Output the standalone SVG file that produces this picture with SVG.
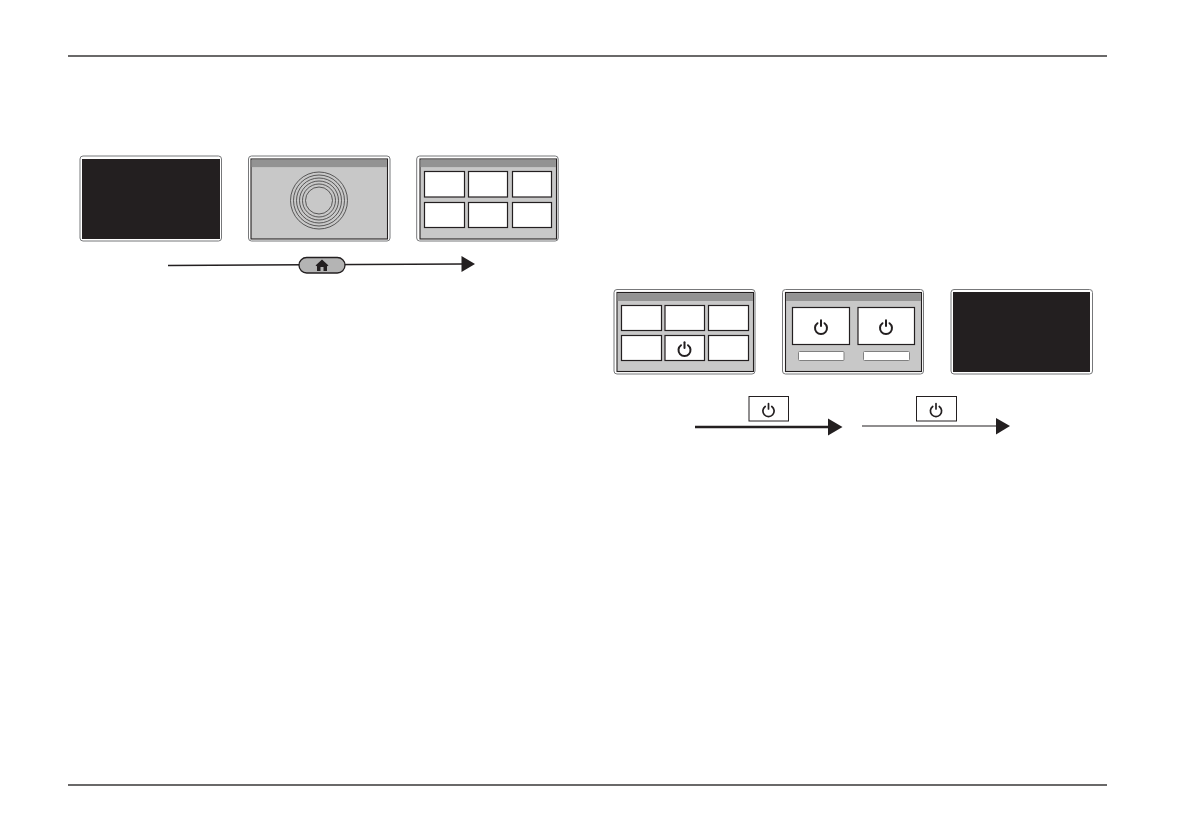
<svg xmlns="http://www.w3.org/2000/svg" width="1192" height="840" viewBox="0 0 1192 840">
<style>
.rule{stroke:#3a3839;stroke-width:1.5;fill:none}
.frame{fill:#fff;stroke:#77787a;stroke-width:1}
.black{fill:#231f20}
.scr{fill:#c8c8c8;stroke:#231f20;stroke-width:1.1}
.bar{fill:#939393}
.cell{fill:#fff;stroke:#231f20;stroke-width:1.2}
.ring{fill:none;stroke:#3a3839;stroke-width:.8}
.slot{fill:#fff;stroke:#808080;stroke-width:1}
.line{stroke:#231f20;fill:none}
.pw{fill:none;stroke:#231f20;stroke-width:2;stroke-linecap:round}
.pw2{fill:none;stroke:#231f20;stroke-width:1.700;stroke-linecap:round}
.head{fill:#231f20}
</style>
<defs>
<g id="power"><path class="pw" d="M-3.500-3.800A6 6 0 1 0 3.500-3.800"/><path class="pw" d="M0-6.800V-1"/></g>
<g id="power-small"><path class="pw2" d="M-3.300-3.500A5.600 5.600 0 1 0 3.300-3.500"/><path class="pw2" d="M0-6.300V-1"/></g>
</defs>
<path class="rule" d="M68 56H1107M68 785H1107"/>
<g id="screen-1"><rect class="frame" x="80" y="156" width="141.500" height="85" rx="3"/><rect class="black" x="82" y="159" width="138" height="80"/></g>
<g id="screen-2"><rect class="frame" x="248.500" y="156" width="141.500" height="85" rx="3"/><rect class="scr" x="251" y="159" width="136.500" height="80"/><rect class="bar" x="251.600" y="159.600" width="135.300" height="7.500"/>
<g class="rings"><circle class="ring" cx="319" cy="200.500" r="28.500"/><circle class="ring" cx="319" cy="200.500" r="25.500"/><circle class="ring" cx="319" cy="200.500" r="22.500"/><circle class="ring" cx="319" cy="200.500" r="19.500"/><circle class="ring" cx="319" cy="200.500" r="16.500"/><circle class="ring" cx="319" cy="200.500" r="13.500"/></g></g>
<g id="screen-3"><rect class="frame" x="416.700" y="156" width="141.500" height="85" rx="3"/><rect class="scr" x="420" y="159" width="136.500" height="80"/><rect class="bar" x="420.600" y="159.600" width="135.300" height="7.500"/>
<rect class="cell" x="424.500" y="171.500" width="40" height="25.500"/><rect class="cell" x="468.500" y="171.500" width="39" height="25.500"/><rect class="cell" x="512.500" y="171.500" width="39" height="25.500"/><rect class="cell" x="424.500" y="202.500" width="40" height="25"/><rect class="cell" x="468.500" y="202.500" width="39" height="25"/><rect class="cell" x="512.500" y="202.500" width="39" height="25"/></g>
<g id="screen-4"><rect class="frame" x="614" y="289.500" width="141" height="84.500" rx="3"/><rect class="scr" x="617" y="292.500" width="136.500" height="79"/><rect class="bar" x="617.600" y="293.100" width="135.300" height="7.900"/>
<rect class="cell" x="621.500" y="305.500" width="40" height="25"/><rect class="cell" x="665" y="305.500" width="39.500" height="25"/><rect class="cell" x="708.500" y="305.500" width="40" height="25"/><rect class="cell" x="621.500" y="335.500" width="40" height="25"/><rect class="cell" x="665" y="335.500" width="39.500" height="25"/><rect class="cell" x="708.500" y="335.500" width="40" height="25"/><use href="#power" x="684.500" y="349"/></g>
<g id="screen-5"><rect class="frame" x="782.500" y="289.500" width="141" height="84.500" rx="3"/><rect class="scr" x="785.500" y="292.500" width="136" height="79"/><rect class="bar" x="786.100" y="293.100" width="134.800" height="7.900"/>
<rect class="cell" x="792.500" y="307.500" width="57" height="37"/><rect class="cell" x="858" y="307.500" width="56.500" height="37"/><rect class="slot" x="798.500" y="351.500" width="45.500" height="9" rx="1"/><rect class="slot" x="863.500" y="351.500" width="46" height="9" rx="1"/><use href="#power" x="821" y="327"/><use href="#power" x="886" y="327"/></g>
<g id="screen-6"><rect class="frame" x="951" y="289.500" width="141.500" height="84.500" rx="3"/><rect class="black" x="953" y="292" width="137" height="80"/></g>
<g id="connectors">
<path class="line" stroke-width="1.400" d="M168 265.500L462 264"/><path class="head" d="M461.500 256L475 264L461.500 272Z"/>
<path class="line" stroke-width="2.500" d="M695 427H830"/><path class="head" d="M828 418.500L842.500 427L828 435.500Z"/>
<path class="line" stroke-width="1.100" d="M862 426H998"/><path class="head" d="M996 418L1010 426L996 434.500Z"/>
</g>
<g id="home-button"><rect x="299" y="257.500" width="46" height="15.500" rx="7.700" fill="#b4b4b4" stroke="#231f20" stroke-width="1.300"/><path fill="#231f20" d="M322 259.500L328.500 265.500L327 266.200V271H323.500V267H320.500V271H317V266.200L315.500 265.500Z"/></g>
<g id="power-button-1"><rect x="749" y="396.500" width="39.500" height="24.500" fill="#fff" stroke="#231f20" stroke-width="1"/><use href="#power-small" x="768.500" y="410"/></g>
<g id="power-button-2"><rect x="916.500" y="396.500" width="40" height="24.500" fill="#fff" stroke="#231f20" stroke-width="1"/><use href="#power-small" x="936" y="410"/></g>
</svg>
